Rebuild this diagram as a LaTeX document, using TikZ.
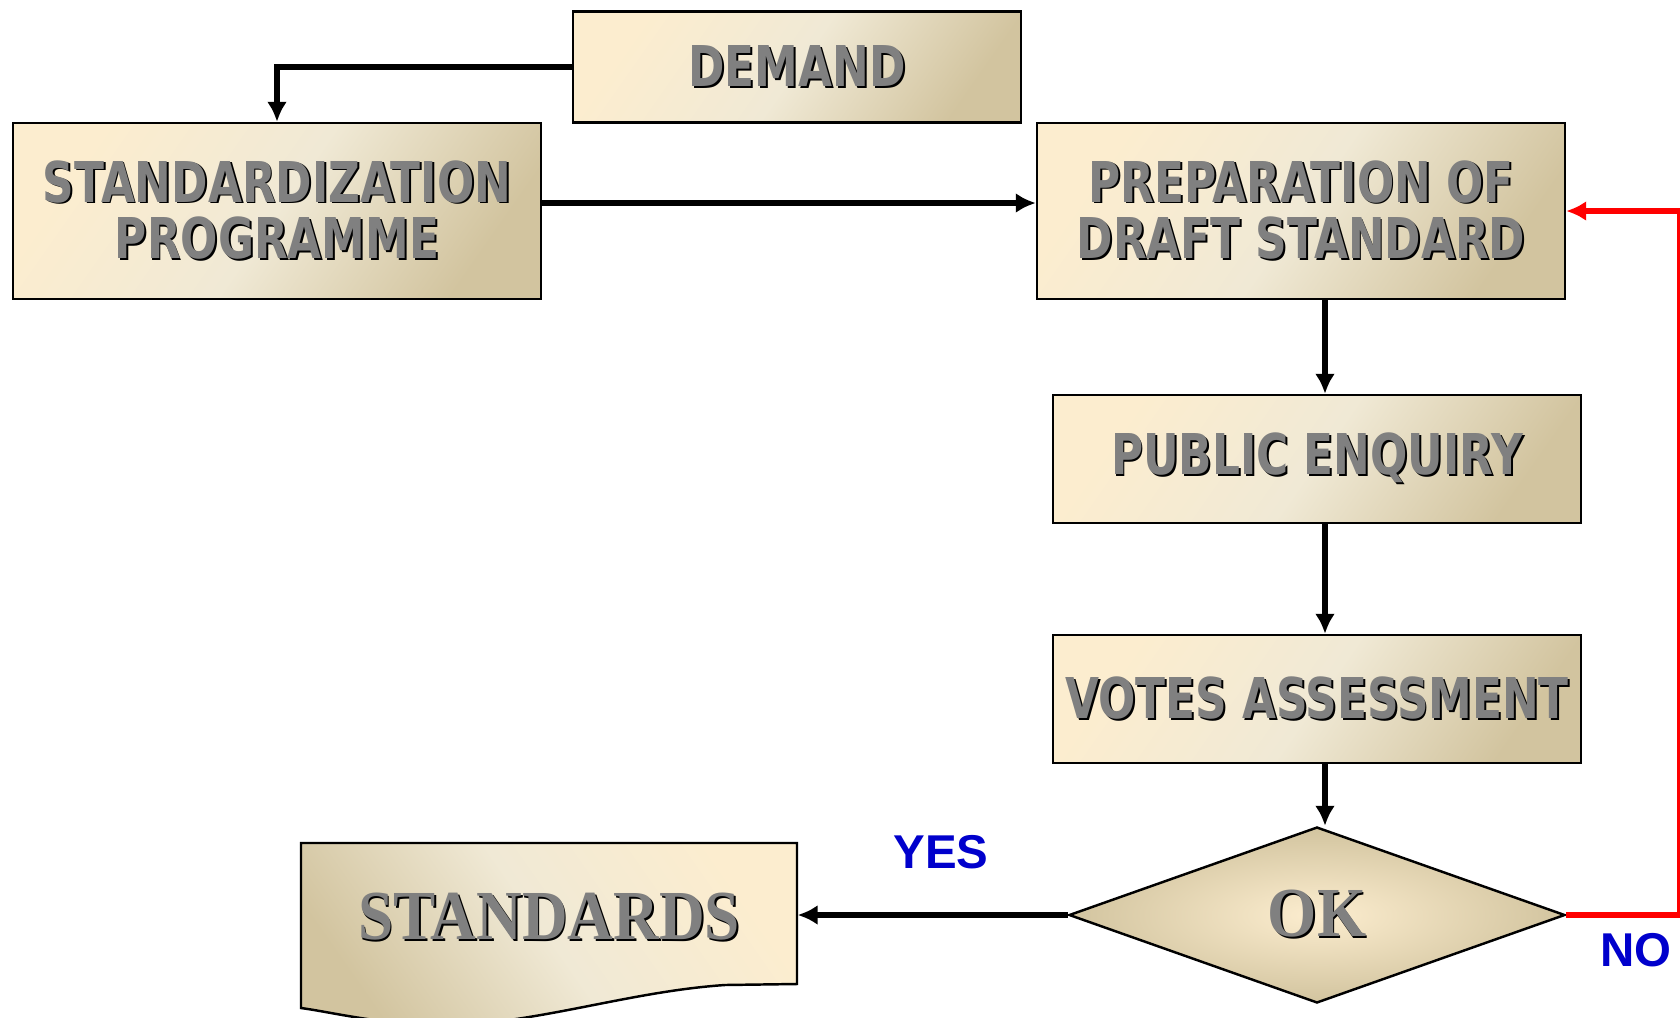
\documentclass[tikz,border=0pt]{standalone}
\usepackage{fontspec}
\usetikzlibrary{positioning,shapes.geometric,arrows.meta}
\newfontfamily\boxfont[FakeStretch=0.78]{DejaVu Sans}
\newfontfamily\serfont[FakeStretch=0.9]{Liberation Serif}
\newfontfamily\labfont{Liberation Sans}

\definecolor{cream}{HTML}{FCEDCF}
\definecolor{midcream}{HTML}{F0E9D5}
\definecolor{tan}{HTML}{D2C49F}
\definecolor{txtgray}{HTML}{808080}
\definecolor{nored}{HTML}{FF0000}
\definecolor{yesblue}{HTML}{0000CC}

% gray letters with a dark drop shadow
\newcommand{\embossed}[1]{\leavevmode\rlap{\kern0.55pt\raisebox{-0.55pt}{\textcolor{black}{#1}}}\textcolor{txtgray}{#1}}

\tikzset{
  stagebox/.style={draw=black, line width=0.7pt, top color=cream, bottom color=tan,
    middle color=midcream, shading angle=55, align=center, inner sep=0pt,
    font=\boxfont\bfseries\fontsize{16}{16.2}\selectfont},
  decision/.style={diamond, draw=black, line width=0.7pt, inner color=cream, outer color=tan,
    minimum width=49.6mm, minimum height=17.6mm, inner sep=0pt, shape aspect=2.8,
    font=\serfont\bfseries\fontsize{20}{20}\selectfont},
  flow/.style={line width=1.5pt, -{Latex[length=2mm,width=2mm]}},
  noflow/.style={flow, draw=nored},
  answer/.style={text=yesblue, font=\labfont\bfseries\fontsize{13.5}{13.5}\selectfont}
}

\begin{document}
\begin{tikzpicture}[x=0.1mm,y=-0.1mm]
    \useasboundingbox (0,0) rectangle (1680,1017);

    % stages of the procedure
    \node[stagebox, minimum width=44.8mm, minimum height=11.1mm] (demand) at (797,67) {\embossed{DEMAND}};
    \node[stagebox, minimum width=52.8mm, minimum height=17.6mm] (stdprog) at (277,211)
        {\embossed{STANDARDIZATION}\\\embossed{PROGRAMME}};
    \node[stagebox, minimum width=52.8mm, minimum height=17.6mm] (draft) at (1301,211)
        {\embossed{PREPARATION OF}\\\embossed{DRAFT STANDARD}};
    \node[stagebox, minimum width=52.8mm, minimum height=12.8mm] (enquiry) at (1317,459) {\embossed{PUBLIC ENQUIRY}};
    \node[stagebox, minimum width=52.8mm, minimum height=12.8mm] (votes) at (1317,699) {\embossed{VOTES ASSESSMENT}};
    \node[decision] (okdec) at (1317,915) {\embossed{OK}};

    % document shape for the result
    \draw[line width=0.7pt, top color=cream, bottom color=tan, middle color=midcream, shading angle=-55]
        (301,843) -- (797,843) -- (797,984) -- (725,985)
        .. controls (620,992) and (520,1030) .. (420,1025)
        .. controls (360,1020) and (330,1012) .. (301,1008) -- cycle;
    \node[minimum width=49.6mm, minimum height=15mm, inner sep=0pt,
          font=\serfont\bfseries\fontsize{20}{20}\selectfont] (stds) at (549,918) {\embossed{STANDARDS}};

    % connectors
    \draw[flow] (demand.west) -| (stdprog.north);
    \draw[flow] ([yshift=0.8mm]stdprog.east) -- ([yshift=0.8mm]draft.west);
    \draw[flow] ([xshift=0.8mm]draft.south -| enquiry.north) -- ([xshift=0.8mm]enquiry.north);
    \draw[flow] ([xshift=0.8mm]enquiry.south) -- ([xshift=0.8mm]votes.north);
    \draw[flow] ([xshift=0.8mm]votes.south) -- ([xshift=0.8mm]okdec.north);
    \draw[flow] (okdec.west) -- (okdec.west -| stds.east);
    \draw[noflow] (okdec.east) -- ++(11.3mm,0) |- (draft.east);

    \node[answer] (yes) at (941,852) {YES};
    \node[answer] (no) at (1636,950) {NO};
\end{tikzpicture}
\end{document}
